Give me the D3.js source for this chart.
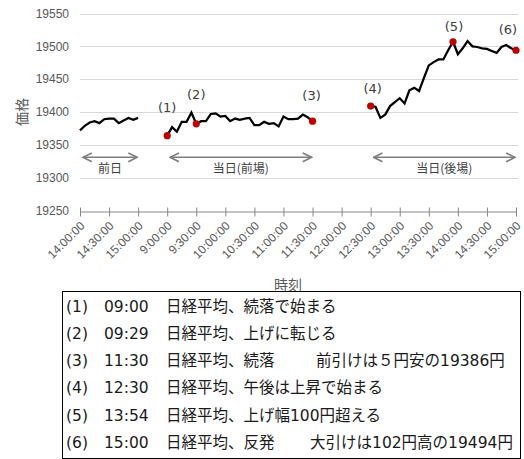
<!DOCTYPE html>
<html><head><meta charset="utf-8">
<script src="https://cdn.jsdelivr.net/npm/d3@7"></script>
<style>
html,body{margin:0;padding:0;background:#fff;}
svg{display:block;}
</style></head>
<body>
<svg id="chart" width="524" height="459"></svg>
<script>
// ---- data ----
const tickLabels = ["14:00:00","14:30:00","15:00:00","9:00:00","9:30:00","10:00:00","10:30:00","11:00:00","11:30:00","12:00:00","12:30:00","13:00:00","13:30:00","14:00:00","14:30:00","15:00:00"];
const yTicks = [19250,19300,19350,19400,19450,19500,19550];
// 5-minute values
const prevDay = [19372,19379,19384,19386,19383,19389,19390,19390,19383,19387,19391,19388,19391];
const prevDayStartTick = 0;   // 14:00
const morning = [19364,19377,19370,19385,19385,19399,19382,19386,19386,19397,19398,19393,19394,19386,19390,19388,19390,19391,19380,19380,19385,19382,19383,19378,19393,19389,19389,19390,19396,19392,19386];
const morningStartTick = 3;   // 9:00
const afternoon = [19409,19408,19391,19396,19409,19415,19421,19413,19433,19437,19432,19452,19471,19476,19480,19480,19494,19507,19488,19497,19508,19500,19499,19497,19496,19493,19490,19499,19502,19497,19494];
const afternoonStartTick = 10; // 12:30
const sessionNames = ["前日","当日(前場)","当日(後場)"];
const sessionTickRanges = [[0,2],[3,8],[10,15]];
const eventLabels = ["(1)","(2)","(3)","(4)","(5)","(6)"];
const eventSeries = ["morning","morning","morning","afternoon","afternoon","afternoon"];
const eventIndex = [0,6,30,0,17,30];
const eventTimes = ["09:00","09:29","11:30","12:30","13:54","15:00"];
const eventTexts = ["日経平均、続落で始まる","日経平均、上げに転じる","日経平均、続落　前引けは５円安の19386円","日経平均、午後は上昇で始まる","日経平均、上げ幅100円超える","日経平均、反発　大引けは102円高の19494円"];
const xTitle = "時刻", yTitle = "価格";

// ---- layout / style ----
const labelOffsets = [[0,-28],[0,-29],[-1,-26],[2,-18],[1,-15],[-8,-21]];
const legendGaps = [0,0,26,0,0,20];
const slotsPerTick = 6;
const svg = d3.select("#chart");
const slots = d3.range((tickLabels.length-1)*slotsPerTick+1);
const x = d3.scalePoint().domain(slots).range([80,516]);
const y = d3.scaleLinear().domain([19250,19550]).range([210.5,13.5]);
const grey = "#595959";
const latinCjk = "DejaVu Sans, Noto Sans CJK JP, sans-serif";

// gridlines
svg.append("g").selectAll("line").data(yTicks.slice(1)).join("line")
  .attr("x1",80).attr("x2",518)
  .attr("y1",d=>Math.round(y(d))+0.5).attr("y2",d=>Math.round(y(d))+0.5)
  .attr("stroke","#d9d9d9").attr("stroke-width",1);

// y axis labels
svg.append("g").selectAll("text").data(yTicks).join("text")
  .attr("x",69).attr("y",d=>y(d)).attr("dy","0.35em")
  .attr("text-anchor","end").attr("font-family","Liberation Sans, Arial, sans-serif")
  .attr("font-size",12).attr("fill",grey).text(d=>d);

// x axis
const tickSlots = tickLabels.map((t,i)=>i*slotsPerTick);
const xAxis = d3.axisBottom(x).tickValues(tickSlots).tickSize(0).tickFormat(d=>tickLabels[d/slotsPerTick]);
const gx = svg.append("g").attr("transform","translate(0,"+Math.round(y(19250))+".5)").call(xAxis);
gx.select(".domain").attr("stroke","#868686").attr("stroke-width",1);
gx.selectAll(".tick line").remove();
gx.selectAll(".tick").append("line").attr("y1",-4).attr("y2",5).attr("stroke","#868686");
gx.selectAll(".tick text")
  .attr("font-family","Liberation Sans, Arial, sans-serif").attr("font-size",12).attr("fill",grey)
  .attr("text-anchor","end").attr("x",0).attr("y",0).attr("dy",0)
  .attr("transform","translate(5,15) rotate(-45)");

// titles
svg.append("text").attr("x",288).attr("y",285).attr("dy","0.35em").attr("text-anchor","middle")
  .attr("font-family","Noto Sans CJK JP, sans-serif").attr("font-size",14).attr("fill",grey).text(xTitle);
svg.append("text").attr("transform","translate(22,112) rotate(-90)").attr("dy","0.35em").attr("text-anchor","middle")
  .attr("font-family","Noto Sans CJK JP, sans-serif").attr("font-size",14).attr("fill",grey).text(yTitle);

// session arrows
const defs = svg.append("defs");
function marker(id, orient){
  defs.append("marker").attr("id",id).attr("viewBox","0 0 10 10").attr("refX",9).attr("refY",5)
    .attr("markerWidth",11).attr("markerHeight",11).attr("markerUnits","userSpaceOnUse").attr("orient",orient)
    .append("path").attr("d","M1,1 L9,5 L1,9").attr("fill","none").attr("stroke","#7f7f7f").attr("stroke-width",1.5);
}
marker("arrEnd","auto"); marker("arrStart","auto-start-reverse");
const arrowY = y(19331);
sessionTickRanges.forEach((r,i)=>{
  const x1 = x(r[0]*slotsPerTick)+3, x2 = x(r[1]*slotsPerTick)-1;
  svg.append("line").attr("x1",x1).attr("x2",x2).attr("y1",arrowY).attr("y2",arrowY)
    .attr("stroke","#7f7f7f").attr("stroke-width",1.6)
    .attr("marker-start","url(#arrStart)").attr("marker-end","url(#arrEnd)");
  svg.append("text").attr("x",(x1+x2)/2).attr("y",arrowY+11).attr("dy","0.35em").attr("text-anchor","middle")
    .attr("font-family","Noto Sans CJK JP, sans-serif").attr("font-size",12).attr("fill","#404040").text(sessionNames[i]);
});

// lines
const series = {prevDay:{v:prevDay,s:prevDayStartTick},morning:{v:morning,s:morningStartTick},afternoon:{v:afternoon,s:afternoonStartTick}};
const line = d3.line().x(d=>x(d[0])).y(d=>y(d[1]));
Object.values(series).forEach(sr=>{
  const pts = sr.v.map((v,i)=>[sr.s*slotsPerTick+i, v]);
  svg.append("path").attr("d",line(pts)).attr("fill","none").attr("stroke","#000")
    .attr("stroke-width",2.25).attr("stroke-linejoin","miter");
});

// event markers + labels
eventLabels.forEach((lab,i)=>{
  const sr = series[eventSeries[i]];
  const slot = sr.s*slotsPerTick+eventIndex[i];
  const px = x(slot), py = y(sr.v[eventIndex[i]]);
  svg.append("circle").attr("cx",px).attr("cy",py).attr("r",3.6).attr("fill","#c00000");
  svg.append("text").attr("x",px+labelOffsets[i][0]).attr("y",py+labelOffsets[i][1]).attr("dy","0.35em")
    .attr("text-anchor","middle").attr("font-family",latinCjk).attr("font-size",13)
    .attr("fill","#404040").text(lab);
});

// legend box
svg.append("rect").attr("x",62.5).attr("y",291.5).attr("width",458).attr("height",167)
  .attr("fill","none").attr("stroke","#000").attr("stroke-width",1);
const lg = svg.append("g").attr("font-family",latinCjk).attr("font-size",15.5).attr("fill","#1a1a1a");
eventLabels.forEach((lab,i)=>{
  const yy = 306.7 + i*27.1;
  lg.append("text").attr("x",66).attr("y",yy).attr("dy","0.35em").text(lab);
  lg.append("text").attr("x",104).attr("y",yy).attr("dy","0.35em").text(eventTimes[i]);
  const t = lg.append("text").attr("x",166).attr("y",yy).attr("dy","0.35em");
  const parts = eventTexts[i].split("　");
  t.append("tspan").text(parts[0] + (parts.length>1 ? "　" : ""));
  if (parts.length>1) t.append("tspan").attr("dx",legendGaps[i]).text(parts[1]);
});
</script>
</body></html>
